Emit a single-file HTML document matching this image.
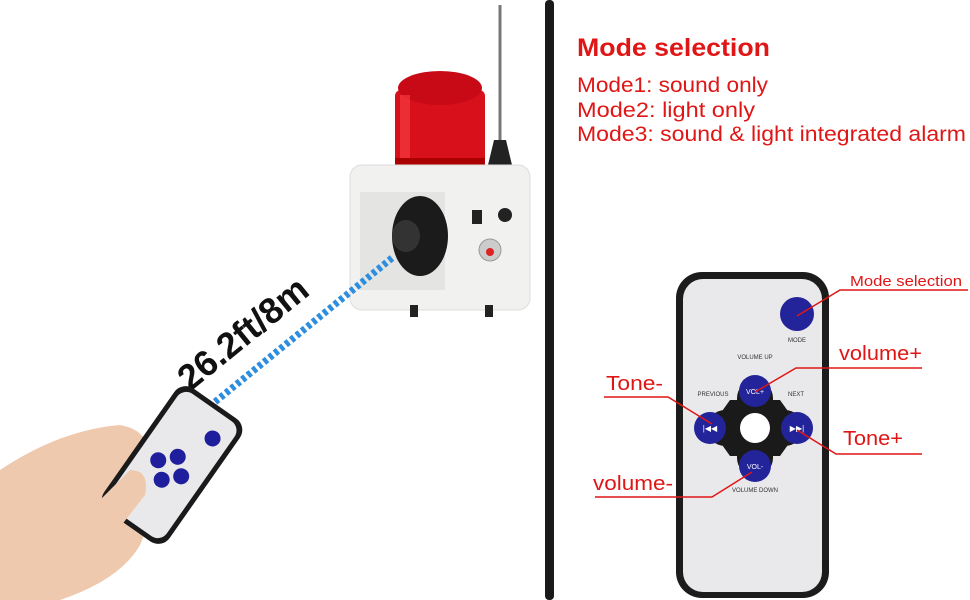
<!DOCTYPE html>
<html><head><style>body{margin:0;background:#fff}svg{display:block}</style></head><body>
<svg width="970" height="600" viewBox="0 0 970 600" xmlns="http://www.w3.org/2000/svg" font-family="Liberation Sans, sans-serif">
<rect width="970" height="600" fill="#fff"/>
<rect x="545" y="0" width="9" height="600" rx="4" fill="#1a1a1a"/>
<line x1="500" y1="5" x2="500" y2="150" stroke="#777" stroke-width="3"/>
<path d="M488 165 L494 140 L506 140 L512 165 Z" fill="#222"/>
<rect x="395" y="90" width="90" height="75" rx="6" fill="#d8101c"/>
<ellipse cx="440" cy="88" rx="42" ry="17" fill="#c80a16"/>
<rect x="400" y="95" width="10" height="70" fill="#ff4a4a" opacity="0.5"/>
<rect x="395" y="158" width="90" height="8" fill="#a00"/>
<rect x="350" y="165" width="180" height="145" rx="12" fill="#f1f1ef" stroke="#ddd"/>
<rect x="410" y="305" width="8" height="12" fill="#222"/><rect x="485" y="305" width="8" height="12" fill="#222"/>
<path d="M360 192 L445 192 L445 290 L360 290 Z" fill="#e4e4e2"/>
<ellipse cx="420" cy="236" rx="28" ry="40" fill="#1b1b1b"/>
<ellipse cx="406" cy="236" rx="14" ry="16" fill="#333"/>
<rect x="472" y="210" width="10" height="14" fill="#222"/>
<circle cx="505" cy="215" r="7" fill="#222"/>
<circle cx="490" cy="250" r="11" fill="#ccc" stroke="#999"/><circle cx="490" cy="252" r="4" fill="#d22"/>
<line x1="392" y1="258" x2="205" y2="410" stroke="#2d8ee0" stroke-width="7" stroke-dasharray="4 3"/>
<text x="0" y="0" font-size="36" font-weight="bold" fill="#111" transform="translate(190 392) rotate(-39)">26.2ft/8m</text>
<path d="M0 470 Q60 430 120 425 Q150 430 150 460 L175 500 Q170 520 150 520 L140 545 Q120 580 60 600 L0 600 Z" fill="#efc9ae"/>
<g transform="translate(172 465) rotate(35)">
<rect x="-40" y="-75" width="80" height="150" rx="14" fill="#1a1a1a"/>
<rect x="-35" y="-70" width="70" height="140" rx="11" fill="#e9e9ec"/>
<circle cx="18" cy="-45" r="8" fill="#1f1f9e"/>
<circle cx="0" cy="-10" r="8" fill="#1f1f9e"/><circle cx="-14" cy="4" r="8" fill="#1f1f9e"/><circle cx="14" cy="4" r="8" fill="#1f1f9e"/><circle cx="0" cy="18" r="8" fill="#1f1f9e"/>
</g>
<path d="M60 540 Q100 500 130 470 Q150 470 145 495 L110 540 Q80 575 50 580 Z" fill="#efc9ae"/>
<text x="577" y="56" font-size="25" font-weight="bold" fill="#e01616" textLength="193" lengthAdjust="spacingAndGlyphs">Mode selection</text>
<text x="577" y="92" font-size="21" fill="#e01616" textLength="191" lengthAdjust="spacingAndGlyphs">Mode1:  sound only</text>
<text x="577" y="117" font-size="21" fill="#e01616" textLength="178" lengthAdjust="spacingAndGlyphs">Mode2:  light only</text>
<text x="577" y="141" font-size="21" fill="#e01616" textLength="389" lengthAdjust="spacingAndGlyphs">Mode3:  sound &amp; light integrated alarm</text>
<rect x="676" y="272" width="153" height="326" rx="26" fill="#1c1c1c"/>
<rect x="683" y="279" width="139" height="313" rx="20" fill="#e9e9ec"/>
<circle cx="797" cy="314" r="17" fill="#23239a"/>
<text x="797" y="342" font-size="6" text-anchor="middle" fill="#333">MODE</text>
<text x="755" y="359" font-size="6" text-anchor="middle" fill="#333">VOLUME UP</text>
<text x="713" y="396" font-size="6" text-anchor="middle" fill="#333">PREVIOUS</text>
<text x="796" y="396" font-size="6" text-anchor="middle" fill="#333">NEXT</text>
<path d="M730 400 L780 400 L800 428 L780 456 L730 456 L710 428 Z" fill="#1a1a1a"/>
<rect x="737" y="380" width="36" height="96" rx="18" fill="#1a1a1a"/>
<rect x="707" y="410" width="96" height="36" rx="18" fill="#1a1a1a"/>
<circle cx="755" cy="428" r="15" fill="#fff"/>
<circle cx="755" cy="391" r="16" fill="#23239a"/><text x="755" y="394" font-size="7" fill="#fff" text-anchor="middle">VOL+</text>
<circle cx="755" cy="466" r="16" fill="#23239a"/><text x="755" y="469" font-size="7" fill="#fff" text-anchor="middle">VOL-</text>
<circle cx="710" cy="428" r="16" fill="#23239a"/><text x="710" y="431" font-size="8" fill="#fff" text-anchor="middle">|◀◀</text>
<circle cx="797" cy="428" r="16" fill="#23239a"/><text x="797" y="431" font-size="8" fill="#fff" text-anchor="middle">▶▶|</text>
<text x="755" y="492" font-size="6" text-anchor="middle" fill="#333">VOLUME DOWN</text>
<g stroke="#e01616" stroke-width="1.5" fill="none">
<polyline points="797,316 840,290 968,290"/>
<polyline points="755,392 796,368 922,368"/>
<polyline points="604,397 668,397 712,424"/>
<polyline points="797,430 836,454 922,454"/>
<polyline points="595,497 712,497 752,472"/>
</g>
<g fill="#e01616">
<text x="850" y="286" font-size="15" textLength="112" lengthAdjust="spacingAndGlyphs">Mode selection</text>
<text x="839" y="360" font-size="20" textLength="83" lengthAdjust="spacingAndGlyphs">volume+</text>
<text x="606" y="390" font-size="20" textLength="57" lengthAdjust="spacingAndGlyphs">Tone-</text>
<text x="843" y="445" font-size="20" textLength="60" lengthAdjust="spacingAndGlyphs">Tone+</text>
<text x="593" y="490" font-size="20" textLength="80" lengthAdjust="spacingAndGlyphs">volume-</text>
</g>
</svg>
</body></html>
